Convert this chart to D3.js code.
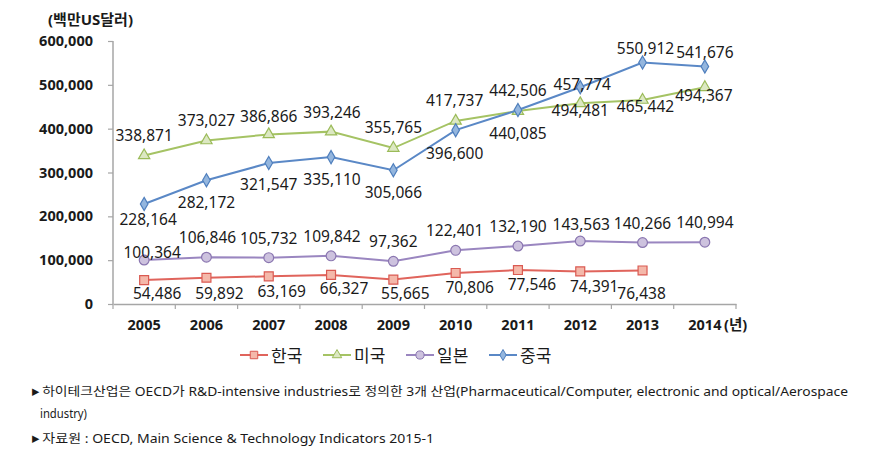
<!DOCTYPE html>
<html>
<head>
<meta charset="utf-8">
<script src="https://cdn.jsdelivr.net/npm/d3@7"></script>
<style>
  body { margin: 0; background: #fff; }
  text { font-family: "Noto Sans", "Noto Sans CJK KR", sans-serif; fill: #1a1a1a; }
</style>
</head>
<body>
<div id="chart"></div>
<script>
const years = ["2005", "2006", "2007", "2008", "2009", "2010", "2011", "2012", "2013", "2014"];
const korea = [54486, 59892, 63169, 66327, 55665, 70806, 77546, 74391, 76438, null];
const usa   = [338871, 373027, 386866, 393246, 355765, 417737, 440085, 457774, 465442, 494367];
const japan = [100364, 106846, 105732, 109842, 97362, 122401, 132190, 143563, 140266, 140994];
const china = [228164, 282172, 321547, 335110, 305066, 396600, 442506, 494481, 550912, 541676];
const yTicks = [0, 100000, 200000, 300000, 400000, 500000, 600000];
const seriesNames = ["한국", "미국", "일본", "중국"];

// label placement (dx, dy from marker)
const labelPos = {
  "한국": [[13,13],[13,15],[13,15],[13,13],[12,13],[14,14],[14,14],[14,15],[-1,23]],
  "미국": [[0,-20],[0,-20],[0,-18],[1,-20],[0,-21],[-1,-21],[0,22],[2,-19],[3,6],[-1,8]],
  "일본": [[8,-8],[1,-20],[0,-20],[1,-20],[0,-20],[-1,-20],[0,-20],[1,-17],[0,-20],[0,-20]],
  "중국": [[4,15],[0,22],[0,21],[1,22],[0,22],[-1,23],[0,-20],[0,23],[3,-15],[0,-15]]
};

const dim = {width: 881, height: 454};
const svg = d3.select('#chart').append('svg').attr('width', dim.width).attr('height', dim.height);

const x = d3.scaleBand().domain(years).range([113, 736]);
const y = d3.scaleLinear().domain([0, 600000]).range([304, 41]);
const cx = d => x(d) + x.bandwidth() / 2;

const series = [
  {name: "한국", values: korea, line: "#E0645C", fill: "#F4B8AA", stroke: "#DA5A52", shape: d3.symbolSquare, size: 80},
  {name: "미국", values: usa, line: "#A5C364", fill: "#DCE8C2", stroke: "#9BBB59", shape: d3.symbolTriangle, size: 55},
  {name: "일본", values: japan, line: "#9A86C0", fill: "#CDC2DE", stroke: "#8A76B0", shape: d3.symbolCircle, size: 75},
  {name: "중국", values: china, line: "#5A88C6", fill: "#94B6DE", stroke: "#4F7FBD", shape: d3.symbolDiamond, size: 50}
];

// axes
const axisX = d3.axisBottom(x).tickSize(0).tickFormat('');
svg.append('g').attr('transform', 'translate(0,304)').call(axisX)
  .call(g => g.select('.domain').attr('stroke', '#A6A6A6').attr('stroke-width', 1.5));
svg.append('g').selectAll('line').data(years.concat(['end'])).enter().append('line')
  .attr('x1', (d, i) => 113 + i * x.bandwidth()).attr('x2', (d, i) => 113 + i * x.bandwidth())
  .attr('y1', 304).attr('y2', 309).attr('stroke', '#A6A6A6').attr('stroke-width', 1.2);
svg.append('g').selectAll('text').data(years).enter().append('text')
  .attr('x', d => cx(d)).attr('y', 330).attr('text-anchor', 'middle')
  .attr('font-size', 14.5).attr('font-weight', 'bold').text(d => d);
svg.append('text').attr('x', 724).attr('y', 330).attr('font-size', 14.5).attr('font-weight', 'bold')
  .attr('font-family', '"Noto Sans CJK KR", sans-serif').text('(년)');

const axisY = d3.axisLeft(y).tickValues(yTicks).tickSize(5).tickFormat(d3.format(','));
svg.append('g').attr('transform', 'translate(113,0)').call(axisY)
  .call(g => g.select('.domain').attr('stroke', '#A6A6A6').attr('stroke-width', 1.5).attr('d', 'M0,41V304'))
  .call(g => g.selectAll('.tick line').attr('stroke', '#A6A6A6').attr('stroke-width', 1.2))
  .call(g => g.selectAll('.tick text').attr('x', -20).attr('font-size', 14.5).attr('font-weight', 'bold')
    .attr('font-family', '"Noto Sans", sans-serif').attr('fill', '#1a1a1a'));

svg.append('text').attr('x', 48).attr('y', 25).attr('font-size', 15).attr('font-weight', 'bold')
  .attr('font-family', '"Noto Sans CJK KR", sans-serif').text('(백만US달러)');

// lines, markers, labels
const line = d3.line().defined(d => d.v != null).x(d => cx(d.year)).y(d => y(d.v));
series.forEach(s => {
  const pts = years.map((yr, i) => ({year: yr, v: s.values[i], i: i})).filter(d => d.v != null);
  svg.append('path').datum(pts).attr('d', line).attr('fill', 'none')
    .attr('stroke', s.line).attr('stroke-width', 2);
  svg.append('g').selectAll('path').data(pts).enter().append('path')
    .attr('d', d3.symbol().type(s.shape).size(s.size))
    .attr('transform', d => `translate(${cx(d.year)},${y(d.v)})`)
    .attr('fill', s.fill).attr('stroke', s.stroke).attr('stroke-width', 1.2);
});
series.forEach(s => {
  const pts = years.map((yr, i) => ({year: yr, v: s.values[i], i: i})).filter(d => d.v != null);
  svg.append('g').selectAll('text').data(pts).enter().append('text')
    .attr('x', d => cx(d.year) + labelPos[s.name][d.i][0])
    .attr('y', d => y(d.v) + labelPos[s.name][d.i][1])
    .attr('dominant-baseline', 'central').attr('text-anchor', 'middle')
    .attr('font-size', 15.5).attr('fill', '#222').text(d => d3.format(',')(d.v));
});

// legend
const legend = svg.append('g').selectAll('g').data(series).enter().append('g')
  .attr('transform', (d, i) => `translate(${240 + i * 83},355)`);
legend.append('line').attr('x1', 0).attr('x2', 28).attr('stroke', d => d.line).attr('stroke-width', 2);
legend.append('path').attr('d', d => d3.symbol().type(d.shape).size(d.size * 0.7)())
  .attr('transform', 'translate(14,0)').attr('fill', d => d.fill).attr('stroke', d => d.stroke);
legend.append('text').attr('x', 31).attr('dominant-baseline', 'central').attr('font-size', 17)
  .attr('font-family', '"Noto Sans CJK KR", sans-serif').attr('fill', '#333').text(d => d.name);

// footnotes
const notes = svg.append('g').attr('font-family', '"Noto Sans CJK KR", sans-serif')
  .attr('font-size', 12.5).attr('fill', '#222');
const bullet = (sel) => sel.append('tspan').attr('font-size', 8).attr('dy', -1).text('▶ ');
const n1 = notes.append('text').attr('x', 31).attr('y', 396).attr('textLength', 817).attr('lengthAdjust', 'spacingAndGlyphs');
bullet(n1);
n1.append('tspan').attr('dy', 1)
  .text('하이테크산업은  OECD가  R&D-intensive  industries로  정의한  3개  산업(Pharmaceutical/Computer,  electronic  and  optical/Aerospace');
notes.append('text').attr('x', 40).attr('y', 418).attr('textLength', 47).attr('lengthAdjust', 'spacingAndGlyphs')
  .text('industry)');
const n3 = notes.append('text').attr('x', 31).attr('y', 443).attr('textLength', 403).attr('lengthAdjust', 'spacingAndGlyphs');
bullet(n3);
n3.append('tspan').attr('dy', 1).text('자료원 : OECD, Main Science & Technology Indicators 2015-1');
</script>
</body>
</html>
